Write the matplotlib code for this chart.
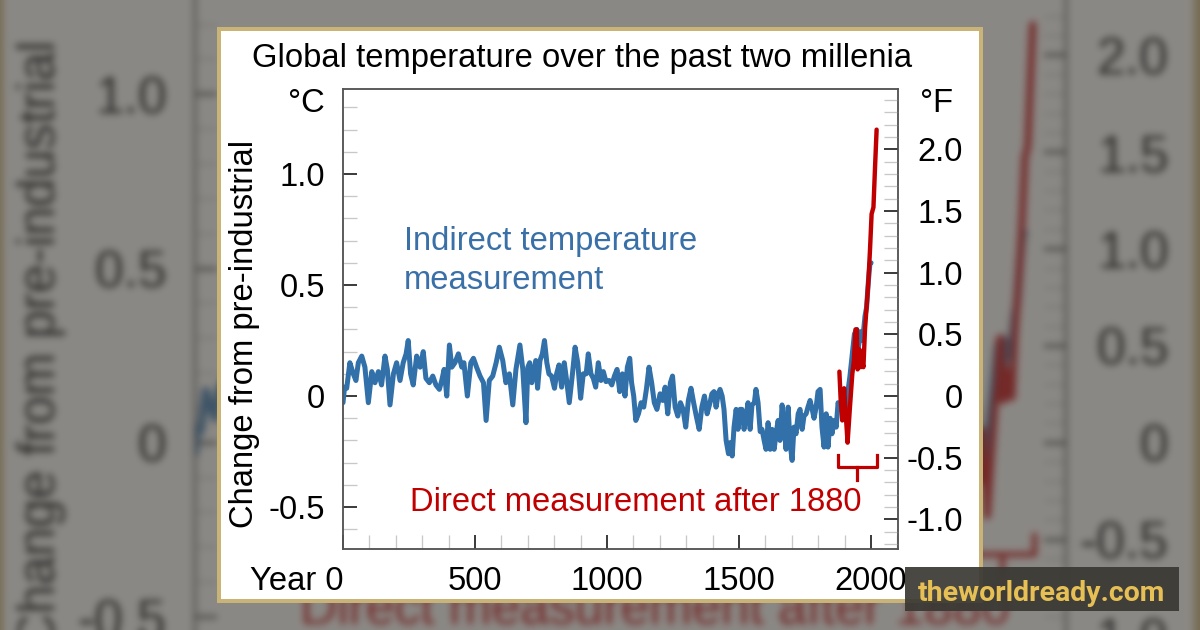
import numpy as np
import matplotlib
matplotlib.use("Agg")
import matplotlib.pyplot as plt
from matplotlib.patches import Rectangle
from matplotlib.ticker import MultipleLocator

W, H, DPI = 1200, 630, 100

# ---------------- data ----------------
TITLE = "Global temperature over the past two millenia"
Y_LABEL = "Change from pre-industrial"
UNIT_C = "°C"
UNIT_F = "°F"
PROXY_LABEL_1 = "Indirect temperature"
PROXY_LABEL_2 = "measurement"
DIRECT_LABEL = "Direct measurement after 1880"
WATERMARK = "theworldready.com"

YEAR_TICKS = [0, 500, 1000, 1500, 2000]
YEAR_LABELS = ["Year 0", "500", "1000", "1500", "2000"]
C_TICKS = [-0.5, 0.0, 0.5, 1.0]
C_LABELS = ["-0.5", "0", "0.5", "1.0"]
F_TICKS = [-1.0, -0.5, 0.0, 0.5, 1.0, 1.5, 2.0]
F_LABELS = ["-1.0", "-0.5", "0", "0.5", "1.0", "1.5", "2.0"]
C_TO_F = 1.8
XLIM = (0, 2102)
YLIM = (-0.689, 1.383)

proxy_years = [
    0, 6, 14, 26, 39, 49, 58, 71, 83, 96, 109, 121, 134, 146, 159, 168, 178, 191,
    203, 216, 228, 239, 247, 256, 266, 279, 292, 304, 314, 327, 340, 352, 365, 374,
    383, 393, 403, 412, 424, 437, 450, 458, 471, 484, 494, 506, 519, 532, 542, 554,
    567, 580, 592, 605, 617, 630, 643, 655, 670, 681, 693, 700, 707, 715, 724, 730,
    737, 746, 755, 763, 772, 780, 790, 801, 809, 818, 828, 838, 847, 857, 869, 879,
    889, 900, 910, 921, 929, 939, 948, 957, 967, 977, 986, 996, 1008, 1018, 1028,
    1038, 1048, 1058, 1068, 1077, 1086, 1093, 1101, 1109, 1119, 1129, 1139, 1149,
    1159, 1169, 1179, 1189, 1201, 1211, 1220, 1230, 1240, 1248, 1258, 1268, 1278,
    1288, 1298, 1308, 1318, 1328, 1338, 1349, 1359, 1369, 1379, 1390, 1397, 1405,
    1413, 1421, 1428, 1436, 1443, 1451, 1460, 1466, 1474, 1481, 1489, 1496, 1504,
    1511, 1519, 1527, 1534, 1542, 1549, 1558, 1564, 1572, 1580, 1587, 1595, 1602,
    1610, 1618, 1625, 1633, 1640, 1648, 1655, 1663, 1671, 1678, 1686, 1693, 1701,
    1708, 1716, 1724, 1731, 1739, 1746, 1754, 1761, 1769, 1777, 1784, 1792, 1799,
    1807, 1814, 1822, 1830, 1837, 1845, 1852, 1860, 1868, 1875, 1883, 1890, 1898,
    1908, 1920, 1929, 1937, 1946, 1952, 1961, 1968, 1977, 1983, 1990, 1996, 2000,
]
proxy_temps = [
    -0.03, 0.04, 0.035, 0.15, 0.10, 0.07, 0.15, 0.18, 0.13, -0.03, 0.11, 0.06, 0.11,
    0.05, 0.18, 0.12, -0.04, 0.10, 0.15, 0.07, 0.15, 0.19, 0.25, 0.10, 0.05, 0.18,
    0.13, 0.20, 0.08, 0.06, 0.09, 0.05, 0.03, 0.07, 0.12, 0.00, 0.23, 0.13, 0.15,
    0.19, 0.13, 0.15, 0.00, 0.15, 0.17, 0.13, 0.09, 0.06, -0.11, 0.07, 0.09, 0.15,
    0.22, 0.16, 0.06, 0.10, -0.04, 0.12, 0.23, 0.12, -0.12, 0.13, 0.15, 0.06, 0.12,
    0.16, 0.035, 0.16, 0.19, 0.25, 0.15, 0.10, 0.09, 0.035, 0.10, 0.14, 0.04, 0.15,
    0.07, -0.03, 0.10, 0.22, 0.15, -0.01, 0.10, 0.10, 0.19, 0.10, 0.08, 0.04, 0.15,
    0.07, 0.11, 0.065, 0.07, 0.05, 0.09, 0.12, 0.02, 0.10, 0.00, 0.13, 0.17, 0.06,
    0.00, -0.11, -0.08, -0.03, -0.05, 0.03, 0.13, 0.06, -0.03, -0.06, 0.01, -0.02,
    0.04, -0.08, 0.06, 0.09, -0.05, -0.09, -0.03, -0.06, -0.14, -0.02, 0.035, -0.03,
    -0.09, -0.15, -0.05, 0.00, -0.08, -0.03, 0.01, 0.02, -0.05, 0.01, 0.03, 0.00,
    -0.06, -0.20, -0.26, -0.21, -0.27, -0.14, -0.06, -0.15, -0.06, -0.06, -0.15,
    -0.09, -0.03, -0.15, -0.04, -0.03, 0.03, -0.03, -0.16, -0.15, -0.20, -0.24,
    -0.12, -0.24, -0.15, -0.24, -0.17, -0.11, -0.20, -0.04, -0.14, -0.24, -0.05,
    -0.21, -0.29, -0.14, -0.17, -0.08, -0.06, -0.15, -0.09, -0.08, -0.05, -0.02,
    -0.06, -0.10, -0.05, 0.02, 0.03, -0.14, -0.23, -0.08, -0.23, -0.10, -0.17,
    -0.11, -0.14, -0.03, -0.06, -0.05, -0.08, -0.02, 0.09, 0.19, 0.28, 0.30, 0.22,
    0.29, 0.25, 0.36, 0.40, 0.52, 0.60, 0.60,
]
direct_years = [1880, 1885, 1891, 1898, 1904, 1911, 1920, 1929, 1935, 1941, 1946,
                1949, 1956, 1961, 1966, 1971, 1977, 1983, 1990, 1996, 2002, 2009,
                2015, 2021]
direct_temps = [0.11, -0.02, -0.11, 0.035, -0.08, -0.21, -0.05, 0.10, 0.16, 0.30,
                0.30, 0.12, 0.21, 0.13, 0.16, 0.13, 0.30, 0.40, 0.52, 0.66, 0.82,
                0.85, 1.03, 1.20]

BRACKET_YEARS = [1875, 1947, 2023]
BRACKET_TEMPS = [-0.265, -0.32, -0.378]

# ---------------- style ----------------
BLUE = "#3170a9"
BLUE_TEXT = "#3a70a8"
RED = "#c00000"
BORDER = "#cab377"
SPINE = "#555555"
MINOR = "#c8c8c8"
FAM = ["Liberation Sans", "DejaVu Sans"]


def build_chart(fig, s=1.0, ox=0.0, oy=0.0):
    def fx(x):
        return (ox + s * x) / W

    def fy(y):
        return 1 - (oy + s * y) / H

    pt = 0.72 * s
    fs = 32.8 * pt

    card = Rectangle((fx(219), fy(601)), 762 * s / W, 572 * s / H,
                     transform=fig.transFigure, facecolor="white",
                     edgecolor=BORDER, linewidth=4 * pt, zorder=-1)
    fig.add_artist(card)

    ax = fig.add_axes([fx(343), fy(549), 555 * s / W, 460 * s / H])
    ax.set_facecolor("white")
    ax.plot(proxy_years, proxy_temps, color=BLUE, lw=5.0 * pt,
            solid_joinstyle="round", solid_capstyle="round", zorder=3)
    ax.plot(direct_years, direct_temps, color=RED, lw=4.4 * pt,
            solid_joinstyle="round", solid_capstyle="round", zorder=4)
    bx0, bx1, bx2 = BRACKET_YEARS
    bt, bm, bb = BRACKET_TEMPS
    ax.plot([bx0, bx0, bx2, bx2], [bt, bm, bm, bt], color=RED, lw=3.2 * pt,
            solid_joinstyle="round", zorder=4, clip_on=False)
    ax.plot([bx1, bx1], [bm, bb], color=RED, lw=3.2 * pt, zorder=4, clip_on=False)

    ax.set_xlim(*XLIM)
    ax.set_ylim(*YLIM)
    ax.set_xticks(YEAR_TICKS, YEAR_LABELS)
    ax.set_yticks(C_TICKS, C_LABELS)
    ax.xaxis.set_minor_locator(MultipleLocator(100))
    ax.yaxis.set_minor_locator(MultipleLocator(0.1))
    ax.tick_params(which="both", direction="in", length=14 * pt,
                   labelsize=fs, top=False, right=False)
    ax.tick_params(which="major", width=1.5 * pt, color="black")
    ax.tick_params(which="minor", width=1.3 * pt, color=MINOR)
    ax.tick_params(axis="y", pad=18 * pt)
    ax.tick_params(axis="x", pad=17 * pt)
    for lab in ax.get_xticklabels() + ax.get_yticklabels():
        lab.set_fontfamily(FAM)
    ax.xaxis.get_major_ticks()[0].label1.set_horizontalalignment("right")

    ax2 = ax.twinx()
    ax2.set_ylim(YLIM[0] * C_TO_F, YLIM[1] * C_TO_F)
    ax2.set_yticks(F_TICKS, F_LABELS)
    ax2.yaxis.set_minor_locator(MultipleLocator(0.1))
    ax2.tick_params(axis="y", which="both", direction="in", length=14 * pt,
                    labelsize=fs, pad=65 * pt, right=True, left=False)
    ax2.tick_params(axis="y", which="major", width=1.5 * pt, color="black")
    ax2.tick_params(axis="y", which="minor", width=1.3 * pt, color=MINOR)
    for t in ax2.yaxis.get_major_ticks():
        t.label2.set_horizontalalignment("right")
        t.label2.set_fontfamily(FAM)

    for a in (ax, ax2):
        for sp in a.spines.values():
            sp.set_color(SPINE)
            sp.set_linewidth(1.5 * pt)

    fig.text(fx(582), fy(67), TITLE, ha="center", va="baseline",
             fontsize=fs, family=FAM, color="black")
    fig.text(fx(325), fy(112), UNIT_C, ha="right", va="baseline",
             fontsize=fs, family=FAM, color="black")
    fig.text(fx(920), fy(112), UNIT_F, ha="left", va="baseline",
             fontsize=fs, family=FAM, color="black")
    fig.text(fx(245), fy(334), Y_LABEL, ha="center", va="center",
             rotation=90, fontsize=fs, family=FAM, color="black")
    fig.text(fx(404), fy(250), PROXY_LABEL_1, ha="left", va="baseline",
             fontsize=fs, family=FAM, color=BLUE_TEXT)
    fig.text(fx(404), fy(289), PROXY_LABEL_2, ha="left", va="baseline",
             fontsize=fs, family=FAM, color=BLUE_TEXT)
    fig.text(fx(410), fy(511), DIRECT_LABEL, ha="left", va="baseline",
             fontsize=fs, family=FAM, color=RED)
    return ax


def gblur(img, sigma):
    r = int(3 * sigma)
    k = np.exp(-0.5 * (np.arange(-r, r + 1) / sigma) ** 2)
    k /= k.sum()
    out = img
    for axis in (0, 1):
        padw = [(0, 0)] * 3
        padw[axis] = (r, r)
        p = np.pad(out, padw, mode="edge")
        n = out.shape[axis]
        acc = np.zeros_like(out)
        for i in range(2 * r + 1):
            sl = [slice(None)] * 3
            sl[axis] = slice(i, i + n)
            acc += k[i] * p[tuple(sl)]
        out = acc
    return out


# ---------------- blurred background (enlarged copy of the chart) ----------------
fig_bg = plt.figure(figsize=(W / DPI, H / DPI), dpi=DPI, facecolor="white")
build_chart(fig_bg, s=1.57, ox=-343.5, oy=-179.0)
fig_bg.canvas.draw()
arr = np.asarray(fig_bg.canvas.buffer_rgba())[..., :3].astype(float) / 255.0
plt.close(fig_bg)
arr = gblur(arr, 3.8)
lo = np.array([0.17, 0.165, 0.16])
hi = np.array([0.545, 0.537, 0.522])
bg = lo + (hi - lo) * arr
bg = np.clip(bg, 0, 1)

# ---------------- main figure ----------------
fig = plt.figure(figsize=(W / DPI, H / DPI), dpi=DPI)
axbg = fig.add_axes([0, 0, 1, 1], zorder=-5)
axbg.imshow(bg, aspect="auto", interpolation="bilinear")
axbg.axis("off")

build_chart(fig)

# watermark
fig.add_artist(Rectangle((905 / W, 1 - 611 / H), 274 / W, 44 / H,
                         transform=fig.transFigure, facecolor="#3a3833",
                         alpha=0.92, edgecolor="none", zorder=10))
fig.text(1041.5 / W, 1 - 601 / H, WATERMARK, ha="center", va="baseline",
         fontsize=20.5, family=["Roboto", "DejaVu Sans"], fontweight="bold",
         color="#e6bf55", zorder=11)

fig.savefig("out.png", dpi=DPI)
